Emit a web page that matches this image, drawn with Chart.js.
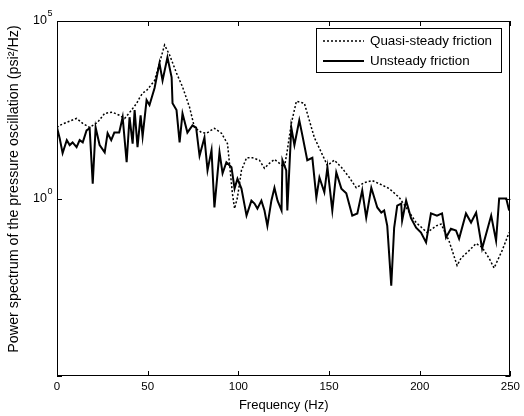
<!DOCTYPE html>
<html>
<head>
<meta charset="utf-8">
<script src="https://cdn.jsdelivr.net/npm/chart.js@4"></script>
<style>
  html, body { margin: 0; padding: 0; background: #fff; }
  #wrap { width: 524px; height: 416px; }
</style>
</head>
<body>
<div id="wrap"><canvas id="psdChart" width="524" height="416"></canvas></div>
<script>
// Quasi-steady friction (dotted line)
const freqQuasi = [0, 1.5, 5.4, 10.8, 14.2, 18, 22.4, 26.3, 30.5, 34.5, 37.3, 41.1, 43.9, 45.5, 47.2,
  49.4, 53.8, 56.5, 59.3, 62.1, 65.9, 69.2, 73.1, 75.8, 79.7, 82.4, 86.8, 90.7, 94, 95.1,
  96.7, 97.9, 99.5, 101.7, 104.5, 107.8, 111.6, 114.4, 117.1, 119.9, 122.7, 125.4, 127, 129.2, 132,
  136.4, 138, 141.9, 145.7, 149.1, 152.9, 156.8, 161.2, 165, 169.4, 173.8, 177.7, 183.2, 188.7, 192.5,
  198, 204.1, 209.1, 211.8, 216.1, 220.6, 222.8, 227.2, 231.1, 234.4, 238.2, 241, 245.4, 249.3];
const powerQuasi = [100, 115, 140, 180, 130, 100, 140, 250, 270, 220, 180, 310, 480, 680, 930,
  1100, 2100, 6500, 21000, 11000, 3400, 1400, 370, 100, 72, 69, 95, 69, 35, 9.8,
  1.4, 0.52, 1.07, 6.2, 14, 14, 12, 7.1, 9.8, 12.6, 9.8, 7.6, 23, 130, 550,
  480, 250, 52, 20, 8.5, 12, 7.6, 3.9, 2.0, 2.8, 3.2, 2.6, 1.9, 1.07, 0.56,
  0.21, 0.11, 0.17, 0.19, 0.065, 0.013, 0.021, 0.034, 0.054, 0.042, 0.021, 0.011, 0.034, 0.11];

// Unsteady friction (solid line)
const freqUnsteady = [0, 1.5, 3.1, 5.4, 7, 8.6, 10.8, 12.5, 14.2, 16.3, 18, 19.7, 21.3, 23.5, 26.3,
  27.9, 29.9, 31.6, 34.3, 36.2, 38.4, 40, 41.7, 42.8, 44.4, 46.1, 47.2, 49.4, 51, 53.8,
  56.5, 58.2, 60.9, 63.2, 63.7, 65.9, 67.6, 69.2, 71.9, 74.7, 76.7, 78.6, 81.3, 83, 85.2,
  86.8, 89.6, 91.3, 93.4, 96.2, 97.9, 99.5, 101.7, 104.5, 107.2, 108.9, 110.5, 112.7, 114.4, 116,
  118.2, 119.9, 121.6, 123.8, 124.3, 126.4, 127, 129.2, 130.9, 133.6, 135.3, 138, 140.8, 143, 144.7,
  147.4, 149.1, 151.8, 154, 156.8, 159.5, 162.8, 165.6, 168.3, 170.5, 173.3, 176.6, 178.8, 180.4, 182.1,
  184.3, 185.9, 187.6, 189.8, 190.3, 192.5, 195.2, 198, 200.7, 203.5, 206.2, 209.5, 212.3, 214.5, 217.2,
  220, 221.7, 225.5, 228.3, 231.1, 234.4, 239.4, 242.1, 243.8, 247.7, 249.3];
const powerUnsteady = [100, 49, 19, 44, 32, 38, 28, 44, 38, 83, 95, 2.6, 100, 32, 20,
  69, 44, 72, 72, 195, 10.5, 195, 35, 310, 28, 220, 56, 590, 430, 1300,
  6500, 2100, 9500, 2600, 480, 310, 38, 250, 72, 115, 100, 16, 52, 6.2, 23,
  0.56, 20, 5.1, 10.5, 7.6, 1.9, 3.6, 1.9, 0.33, 0.87, 0.72, 0.52, 0.87, 0.46, 0.17,
  0.87, 2.0, 0.87, 0.46, 12, 6.2, 0.46, 100, 32, 160, 60, 12, 14, 1.07, 3.9,
  1.5, 7.6, 0.46, 5.4, 1.9, 1.4, 0.33, 0.38, 1.7, 0.29, 2.0, 0.56, 0.40, 0.46, 0.17,
  0.0035, 0.15, 0.63, 0.72, 0.24, 0.87, 0.28, 0.15, 0.11, 0.058, 0.38, 0.33, 0.38, 0.08, 0.14,
  0.126, 0.074, 0.38, 0.21, 0.40, 0.039, 0.33, 0.065, 1.0, 1.0, 0.46];

// axis ticks
const xTicks = [0, 50, 100, 150, 200, 250];
const yTickValues = [1e-5, 1, 1e5];
const yTickExponents = [null, '0', '5']; // labels drawn as 10^exp

const seriesNames = ['Quasi-steady friction', 'Unsteady friction'];
const yTitle = 'Power spectrum of the pressure oscillation (psi\u00b2/Hz)';

const FONT = "'Liberation Sans', Arial, Helvetica, sans-serif";

const toPoints = (xs, ys) => xs.map((f, i) => ({ x: f, y: ys[i] }));

// frame, inward tick marks, power-of-ten labels, y title and the boxed legend
const matlabFrame = {
  id: 'matlabFrame',
  afterDatasetsDraw(chart) {
    const { ctx, chartArea: a, scales } = chart;
    const tick = 5;
    ctx.save();
    ctx.strokeStyle = '#000';
    ctx.fillStyle = '#000';
    ctx.lineWidth = 1;
    ctx.setLineDash([]);
    ctx.strokeRect(Math.round(a.left) + 0.5, Math.round(a.top) + 0.5,
      Math.round(a.width) - 1, Math.round(a.height) - 1);

    ctx.beginPath();
    xTicks.forEach((v) => {
      const px = Math.round(scales.x.getPixelForValue(v)) + 0.5;
      ctx.moveTo(px, a.bottom); ctx.lineTo(px, a.bottom - tick);
      ctx.moveTo(px, a.top); ctx.lineTo(px, a.top + tick);
    });
    yTickValues.forEach((v) => {
      const py = Math.round(scales.y.getPixelForValue(v)) + 0.5;
      ctx.moveTo(a.left, py); ctx.lineTo(a.left + tick, py);
      ctx.moveTo(a.right, py); ctx.lineTo(a.right - tick, py);
    });
    ctx.stroke();

    // y tick labels: "10" with a raised exponent
    ctx.textBaseline = 'middle';
    yTickValues.forEach((v, i) => {
      const e = yTickExponents[i];
      if (e === null) return;
      const py = scales.y.getPixelForValue(v);
      ctx.font = '12.5px ' + FONT;
      ctx.textAlign = 'right';
      ctx.fillText('10', a.left - 10, py);
      ctx.font = '9px ' + FONT;
      ctx.textAlign = 'left';
      ctx.fillText(e, a.left - 9.5, py - 7);
    });

    // y axis title
    ctx.save();
    ctx.translate(14, 189);
    ctx.rotate(-Math.PI / 2);
    ctx.font = '14.3px ' + FONT;
    ctx.textAlign = 'center';
    ctx.fillText(yTitle, 0, 0);
    ctx.restore();

    // legend box
    const bx = 316.5, by = 28.5, bw = 185, bh = 44;
    ctx.fillStyle = '#fff';
    ctx.fillRect(bx, by, bw, bh);
    ctx.strokeRect(bx, by, bw, bh);

    const rows = [
      { y: 41, dash: [2, 2], width: 1.5 },
      { y: 61, dash: [], width: 2 },
    ];
    ctx.font = '13.4px ' + FONT;
    ctx.textAlign = 'left';
    rows.forEach((r, i) => {
      ctx.beginPath();
      ctx.setLineDash(r.dash);
      ctx.lineWidth = r.width;
      ctx.moveTo(323, r.y);
      ctx.lineTo(364, r.y);
      ctx.stroke();
      ctx.fillStyle = '#000';
      ctx.fillText(seriesNames[i], 370, r.y);
    });
    ctx.restore();
  },
};

const ctx = document.getElementById('psdChart').getContext('2d');
new Chart(ctx, {
  type: 'line',
  data: {
    datasets: [
      {
        label: seriesNames[0],
        data: toPoints(freqQuasi, powerQuasi),
        borderColor: '#000',
        borderWidth: 1.5,
        borderDash: [2, 2],
        pointRadius: 0,
        tension: 0,
        fill: false,
      },
      {
        label: seriesNames[1],
        data: toPoints(freqUnsteady, powerUnsteady),
        borderColor: '#000',
        borderWidth: 2,
        pointRadius: 0,
        tension: 0,
        fill: false,
      },
    ],
  },
  options: {
    responsive: false,
    animation: false,
    layout: { padding: { left: 0, top: 21, right: 13, bottom: 0 } },
    plugins: {
      legend: { display: false },
      tooltip: { enabled: false },
    },
    scales: {
      x: {
        type: 'linear',
        min: 0,
        max: 250,
        afterBuildTicks: (s) => { s.ticks = xTicks.map((v) => ({ value: v })); },
        afterFit: (s) => { s.height = 40; },
        grid: { display: false, drawTicks: false },
        border: { display: false },
        ticks: {
          color: '#000',
          padding: 4,
          maxRotation: 0,
          font: { family: FONT, size: 11.5 },
        },
        title: {
          display: true,
          text: 'Frequency (Hz)',
          color: '#000',
          font: { family: FONT, size: 13 },
          padding: { top: 0, bottom: 3 },
        },
      },
      y: {
        type: 'logarithmic',
        min: 1e-5,
        max: 1e5,
        afterBuildTicks: (s) => { s.ticks = yTickValues.map((v) => ({ value: v })); },
        afterFit: (s) => { s.width = 57; },
        grid: { display: false, drawTicks: false },
        border: { display: false },
        ticks: { display: false },
        title: { display: false },
      },
    },
  },
  plugins: [matlabFrame],
});
</script>
</body>
</html>
